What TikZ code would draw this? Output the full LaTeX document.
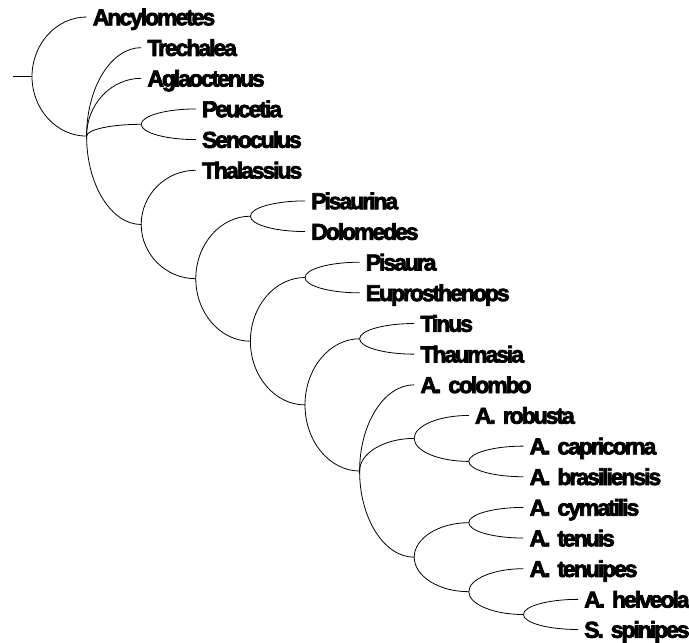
\documentclass[tikz,border=0pt]{standalone}
\usepackage{fontspec}
\usetikzlibrary{calc}
\newfontfamily\labfont{Liberation Sans}[LetterSpace=-9,FakeBold=3.2,WordSpace=1.6]
\newcommand\br[2]{\draw[branch] (#1) .. controls ($(#1)!0.55!(#1|-#2)$) and ($(#2)!0.55!(#1|-#2)$) .. (#2);}
\begin{document}
\begin{tikzpicture}[x=1pt,y=-1pt,
  branch/.style={line width=0.8pt,black},
  leaf/.style={anchor=west,inner xsep=6pt,inner ysep=0pt,text height=16.5pt,text depth=0pt,
    font=\labfont\bfseries\fontsize{23}{26}\selectfont}]
\useasboundingbox (0,0) rectangle (689,643);
% leaves
\node[leaf] (t0) at (86.6,17) {Ancylometes};
\node[leaf] (t1) at (141.2,47.65) {Trechalea};
\node[leaf] (t2) at (141.2,78.3) {Aglaoctenus};
\node[leaf] (t3) at (195.8,108.95) {Peucetia};
\node[leaf] (t4) at (195.8,139.6) {Senoculus};
\node[leaf] (t5) at (195.8,170.25) {Thalassius};
\node[leaf] (t6) at (305,200.9) {Pisaurina};
\node[leaf] (t7) at (305,231.55) {Dolomedes};
\node[leaf] (t8) at (359.6,262.2) {Pisaura};
\node[leaf] (t9) at (359.6,292.85) {Euprosthenops};
\node[leaf] (t10) at (414.2,323.5) {Tinus};
\node[leaf] (t11) at (414.2,354.15) {Thaumasia};
\node[leaf] (t12) at (414.2,384.8) {A. colombo};
\node[leaf] (t13) at (468.8,415.45) {A. robusta};
\node[leaf] (t14) at (523.4,446.1) {A. capricorna};
\node[leaf] (t15) at (523.4,476.75) {A. brasiliensis};
\node[leaf] (t16) at (523.4,507.4) {A. cymatilis};
\node[leaf] (t17) at (523.4,538.05) {A. tenuis};
\node[leaf] (t18) at (523.4,568.7) {A. tenuipes};
\node[leaf] (t19) at (578,599.35) {A. helveola};
\node[leaf] (t20) at (578,629.5) {S. spinipes};
% internal nodes
\coordinate (stub) at (13,76.5);
\coordinate (root) at (32,76.5);
\coordinate (n1) at (86.6,136.1);
\coordinate (nps) at (141.2,124.3);
\coordinate (n2) at (141.2,224.5);
\coordinate (n3) at (195.8,278.7);
\coordinate (npd) at (250.4,216.2);
\coordinate (n4) at (250.4,341.2);
\coordinate (npe) at (305,277.5);
\coordinate (n5) at (305,404.9);
\coordinate (ntt) at (359.6,338.8);
\coordinate (nc) at (359.6,471);
\coordinate (nr) at (414.2,438.4);
\coordinate (ncb) at (468.8,461.4);
\coordinate (nb) at (414.2,557.2);
\coordinate (nct) at (468.8,522.7);
\coordinate (ntp) at (468.8,591.7);
\coordinate (nhs) at (523.4,614.5);
% branches
\draw[branch] (stub) -- (root);
\br{root}{t0.west}
\br{root}{n1}
\br{n1}{t1.west}
\br{n1}{t2.west}
\br{n1}{nps}
\br{nps}{t3.west}
\br{nps}{t4.west}
\br{n1}{n2}
\br{n2}{t5.west}
\br{n2}{n3}
\br{n3}{npd}
\br{npd}{t6.west}
\br{npd}{t7.west}
\br{n3}{n4}
\br{n4}{npe}
\br{npe}{t8.west}
\br{npe}{t9.west}
\br{n4}{n5}
\br{n5}{ntt}
\br{ntt}{t10.west}
\br{ntt}{t11.west}
\br{n5}{nc}
\br{nc}{t12.west}
\br{nc}{nr}
\br{nr}{t13.west}
\br{nr}{ncb}
\br{ncb}{t14.west}
\br{ncb}{t15.west}
\br{nc}{nb}
\br{nb}{nct}
\br{nct}{t16.west}
\br{nct}{t17.west}
\br{nb}{ntp}
\br{ntp}{t18.west}
\br{ntp}{nhs}
\br{nhs}{t19.west}
\br{nhs}{t20.west}
\end{tikzpicture}
\end{document}
